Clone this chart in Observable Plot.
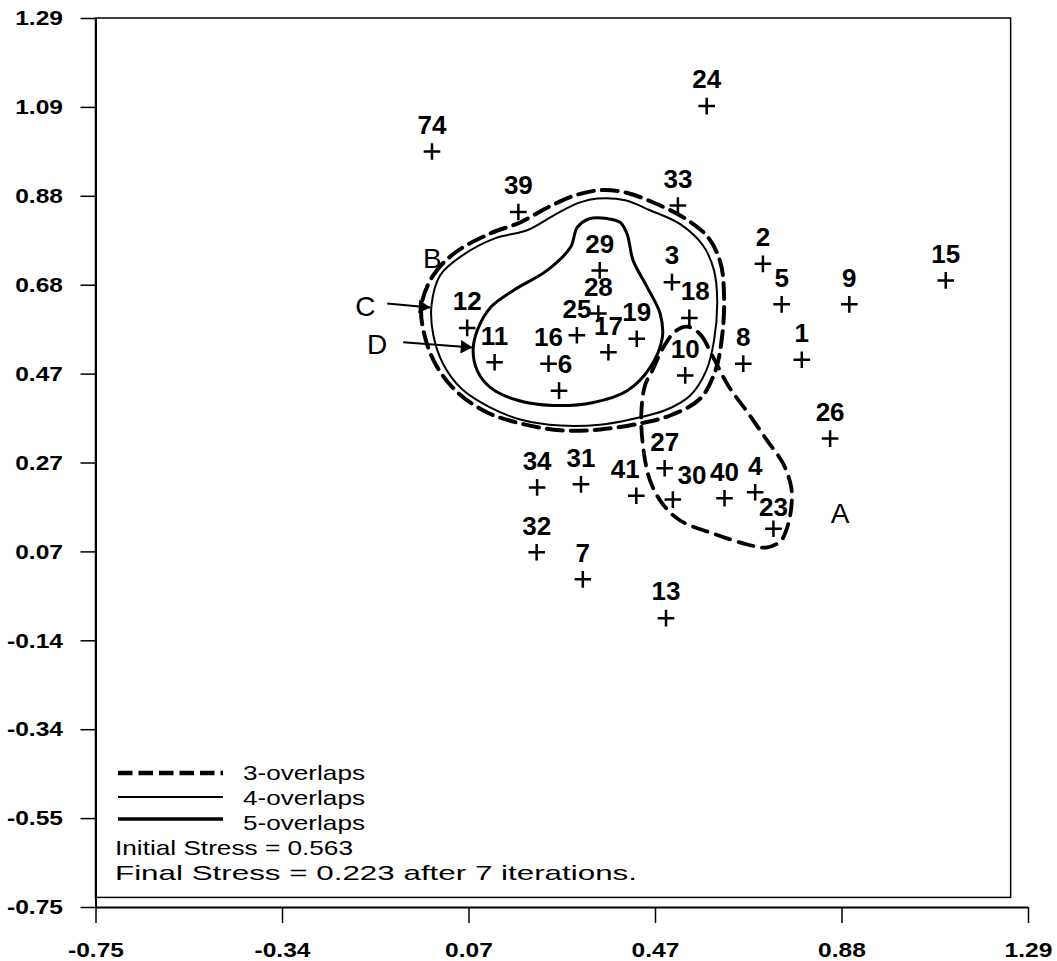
<!DOCTYPE html>
<html><head><meta charset="utf-8">
<script src="https://cdn.jsdelivr.net/npm/d3@7"></script>
<script src="https://cdn.jsdelivr.net/npm/@observablehq/plot@0.6"></script>
<style>body{margin:0;background:#fff} #chart svg{display:block}</style>
</head><body><div id="chart"></div>
<script>
// ---- data ----
const pointIds = ["1","2","3","4","5","6","7","8","9","10","11","12","13","15","16","17","18","19","23","24","25","26","27","28","29","30","31","32","33","34","39","40","41","74"];
const pointX = [0.794,0.709,0.510,0.692,0.750,0.263,0.315,0.666,0.898,0.539,0.122,0.062,0.497,1.109,0.240,0.371,0.548,0.433,0.732,0.586,0.302,0.856,0.494,0.349,0.352,0.512,0.311,0.214,0.523,0.215,0.174,0.625,0.432,-0.015];
const pointY = [0.507,0.727,0.685,0.203,0.634,0.436,0.003,0.498,0.634,0.471,0.501,0.580,-0.086,0.689,0.498,0.524,0.603,0.555,0.119,1.089,0.563,0.326,0.258,0.613,0.712,0.186,0.221,0.065,0.861,0.214,0.846,0.189,0.195,0.985];

// contour outlines (data units)
const contourA3 = [[0.543,0.583],[0.572,0.565],[0.598,0.517],[0.633,0.448],[0.677,0.384],[0.718,0.322],[0.753,0.269],[0.771,0.214],[0.771,0.168],[0.762,0.122],[0.747,0.090],[0.716,0.076],[0.675,0.083],[0.600,0.108],[0.528,0.138],[0.489,0.177],[0.462,0.230],[0.447,0.306],[0.443,0.384],[0.451,0.448],[0.467,0.482],[0.491,0.535],[0.517,0.572]];
const contourB3 = [[-0.038,0.632],[-0.012,0.701],[0.036,0.753],[0.113,0.797],[0.178,0.822],[0.239,0.857],[0.298,0.884],[0.353,0.896],[0.408,0.891],[0.473,0.866],[0.539,0.831],[0.589,0.788],[0.616,0.730],[0.624,0.655],[0.620,0.563],[0.605,0.482],[0.572,0.418],[0.506,0.379],[0.441,0.361],[0.353,0.347],[0.266,0.345],[0.178,0.361],[0.106,0.386],[0.043,0.430],[-0.003,0.489],[-0.030,0.558]];
const contourC4 = [[-0.016,0.632],[0.003,0.701],[0.051,0.746],[0.124,0.786],[0.193,0.804],[0.259,0.843],[0.309,0.868],[0.347,0.877],[0.408,0.873],[0.462,0.850],[0.528,0.818],[0.578,0.769],[0.602,0.712],[0.609,0.643],[0.602,0.551],[0.585,0.482],[0.550,0.425],[0.495,0.391],[0.419,0.370],[0.353,0.358],[0.266,0.356],[0.178,0.370],[0.113,0.397],[0.051,0.439],[0.010,0.496],[-0.012,0.563]];
const contourD5 = [[0.368,0.831],[0.397,0.822],[0.412,0.795],[0.425,0.735],[0.456,0.673],[0.484,0.613],[0.489,0.558],[0.462,0.489],[0.412,0.436],[0.338,0.409],[0.250,0.402],[0.172,0.414],[0.113,0.443],[0.084,0.482],[0.075,0.528],[0.084,0.574],[0.113,0.627],[0.163,0.666],[0.237,0.712],[0.288,0.765],[0.303,0.811],[0.331,0.831]];

const regionLetters = ["A","B","C","D"];
const regionX = [0.878,-0.014,-0.161,-0.135];
const regionY = [0.154,0.737,0.627,0.540];

const arrowFromX = [-0.113,-0.078];
const arrowFromY = [0.636,0.547];
const arrowToX = [-0.019,0.073];
const arrowToY = [0.627,0.535];

const xTickValues = [-0.75,-0.342,0.066,0.474,0.882,1.29];
const xTickLabels = ["-0.75","-0.34","0.07","0.47","0.88","1.29"];
const yTickValues = [-0.75,-0.546,-0.342,-0.138,0.066,0.27,0.474,0.678,0.882,1.086,1.29];
const yTickLabels = ["-0.75","-0.55","-0.34","-0.14","0.07","0.27","0.47","0.68","0.88","1.09","1.29"];

const legendNames = ["3-overlaps","4-overlaps","5-overlaps"];
const stressLines = ["Initial Stress = 0.563","Final Stress = 0.223 after 7 iterations."];
const frameBox = [{x1:-0.75, x2:1.252, y1:-0.728, y2:1.29}];

// ---- build ----
const points = pointIds.map((id,i)=>({id, x:pointX[i], y:pointY[i]}));
const regions = regionLetters.map((t,i)=>({t, x:regionX[i], y:regionY[i]}));
const arrows = arrowFromX.map((_,i)=>({x1:arrowFromX[i], y1:arrowFromY[i], x2:arrowToX[i], y2:arrowToY[i]}));

const shiftRight = new Set(["30"]);
const shiftSmallRight = new Set(["6","18"]);
const shiftLeft = new Set(["41"]);
const lowLabel = new Set(["23"]);
const normal = points.filter(d=>!shiftRight.has(d.id)&&!shiftSmallRight.has(d.id)&&!shiftLeft.has(d.id)&&!lowLabel.has(d.id));

const FONT = "'Liberation Sans', Arial, Helvetica, sans-serif";
const lbl = {x:"x", y:"y", text:"id", fontSize:26, fontWeight:"bold", fill:"black"};

const chart = Plot.plot({
  width: 1057, height: 961,
  marginLeft: 95.5, marginRight: 29, marginTop: 18, marginBottom: 54,
  style: {fontFamily: FONT, color: "black", background: "white"},
  x: {domain: [-0.75, 1.29]},
  y: {domain: [-0.75, 1.29]},
  marks: [
    Plot.rect(frameBox, {x1:"x1", x2:"x2", y1:"y1", y2:"y2", fill:"none", stroke:"black", strokeWidth:1.5}),
    Plot.ruleX([-0.75], {stroke:"black", strokeWidth:2}),
    Plot.ruleY([-0.75], {stroke:"black", strokeWidth:2}),
    Plot.axisX({ticks: xTickValues, tickFormat: d => xTickLabels[xTickValues.indexOf(d)], tickSize: 16, tickPadding: 19, fontSize: 21, fontWeight: "bold", strokeWidth: 1.5, label: null}),
    Plot.axisY({ticks: yTickValues, tickFormat: d => yTickLabels[yTickValues.indexOf(d)], tickSize: 15, tickPadding: 18, fontSize: 21, fontWeight: "bold", strokeWidth: 1.5, label: null}),
    Plot.line(contourB3, {x: d=>d[0], y: d=>d[1], curve: "catmull-rom-closed", stroke: "black", strokeWidth: 4, strokeDasharray: "16,8"}),
    Plot.line(contourC4, {x: d=>d[0], y: d=>d[1], curve: "catmull-rom-closed", stroke: "black", strokeWidth: 2}),
    Plot.line(contourD5, {x: d=>d[0], y: d=>d[1], curve: "catmull-rom-closed", stroke: "black", strokeWidth: 3}),
    Plot.line(contourA3, {x: d=>d[0], y: d=>d[1], curve: "catmull-rom-closed", stroke: "black", strokeWidth: 3.8, strokeDasharray: "15,9"}),
    Plot.dot(points, {x:"x", y:"y", symbol:"plus", r:5.4, stroke:"black", strokeWidth:2.5}),
    Plot.text(normal, {...lbl, dy:-26}),
    Plot.text(points.filter(d=>shiftRight.has(d.id)), {...lbl, dy:-24, dx:19}),
    Plot.text(points.filter(d=>shiftSmallRight.has(d.id)), {...lbl, dy:-26, dx:6}),
    Plot.text(points.filter(d=>shiftLeft.has(d.id)), {...lbl, dy:-26, dx:-11}),
    Plot.text(points.filter(d=>lowLabel.has(d.id)), {...lbl, dy:-21}),
    Plot.text(regions, {x:"x", y:"y", text:"t", fontSize:28, fill:"black"}),
    Plot.link(arrows, {x1:"x1", y1:"y1", x2:"x2", y2:"y2", stroke:"black", strokeWidth:2}),
    Plot.dot(arrows, {x:"x2", y:"y2", symbol:"triangle", rotate:94, r:5, fill:"black", stroke:"none", dx:-7.5, dy:-0.5})
  ]
});
document.getElementById("chart").appendChild(chart);

const svg = d3.select(chart);
// stretch axis tick labels horizontally like the original
svg.selectAll('g[aria-label$="tick label"] text').each(function(){
  const w = this.getComputedTextLength();
  this.setAttribute("textLength", (w*1.17).toFixed(1));
  this.setAttribute("lengthAdjust", "spacingAndGlyphs");
});

// legend (inside the framed box, lower left)
const lg = svg.append("g").attr("font-family", FONT).attr("font-size", 21).attr("fill", "black").attr("text-anchor", "start");
const lineY = [773, 797, 819];
const lineW = [4.5, 2, 3.5];
const lineDash = ["14.5,6", null, null];
legendNames.forEach((name,i)=>{
  const l = lg.append("line").attr("x1",118).attr("x2",223).attr("y1",lineY[i]).attr("y2",lineY[i])
    .attr("stroke","black").attr("stroke-width",lineW[i]);
  if (lineDash[i]) l.attr("stroke-dasharray", lineDash[i]);
  lg.append("text").attr("x",243).attr("y",780 + 25*i).attr("text-anchor","start").attr("data-w", 122).text(name);
});
const stressWidths = [238, 522];
stressLines.forEach((s,i)=>{
  lg.append("text").attr("x",115).attr("y",855 + 25*i).attr("text-anchor","start").attr("data-w", stressWidths[i]).text(s);
});
lg.selectAll("text").each(function(){
  this.setAttribute("textLength", this.getAttribute("data-w"));
  this.setAttribute("lengthAdjust", "spacingAndGlyphs");
});
</script>
</body></html>
